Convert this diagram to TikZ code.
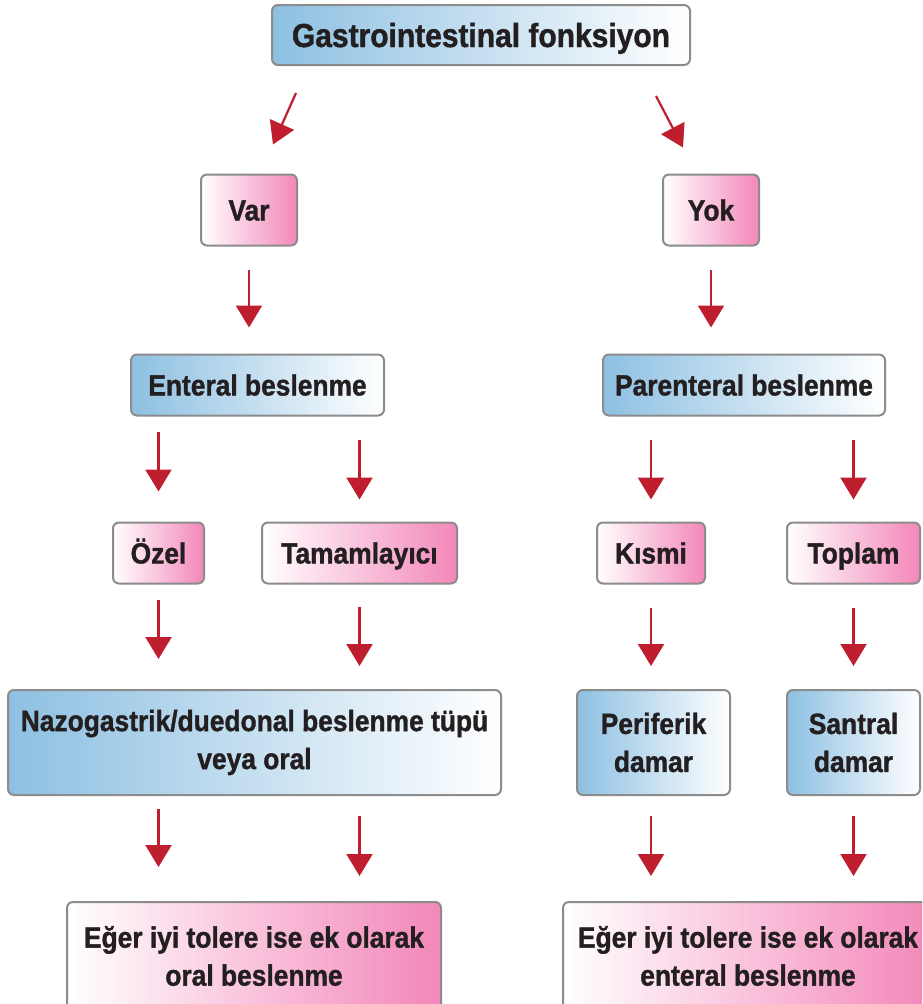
\documentclass[tikz,border=0pt]{standalone}
\usepackage{fontspec}
\setmainfont{Liberation Sans}[FakeStretch=0.9, BoldFeatures={FakeBold=1.2}]
\usepackage{xcolor}
\usetikzlibrary{arrows.meta, calc}
\definecolor{boxgray}{RGB}{140,140,140}
\definecolor{boxblue}{RGB}{141,192,226}
\definecolor{boxpink}{RGB}{243,135,185}
\definecolor{arrred}{RGB}{190,30,45}
\definecolor{txt}{RGB}{35,31,32}
\newcommand{\bodyfont}{\fontsize{29.3}{38}\selectfont\bfseries}
\newcommand{\titlefont}{\fontsize{33.3}{40}\selectfont\bfseries}

\begin{document}
\begin{tikzpicture}[x=1pt, y=-1pt,
    box/.style={draw=boxgray, line width=2pt, rounded corners=6pt, inner sep=0pt,
        align=center, text=txt, font=\bodyfont},
    oneline/.style={text height=21pt, text depth=0pt},
    bluebox/.style={box, left color=boxblue, right color=white},
    pinkbox/.style={box, left color=white, right color=boxpink},
    arr/.style={draw=arrred, line width=2.2pt, -{Triangle[width=26pt,length=22pt]}}]

    \useasboundingbox (0,0) rectangle (922,1004);
    \clip (0,0) rectangle (922,1004);

    % Top level
    \node[bluebox, font=\titlefont, text height=24pt, text depth=0pt, minimum width=418pt, minimum height=60pt] (title) at (481,35) {Gastrointestinal fonksiyon};

    % Var / Yok
    \node[pinkbox, oneline, minimum width=96pt, minimum height=71pt] (var) at (249,210) {Var};
    \node[pinkbox, oneline, minimum width=96pt, minimum height=71pt] (yok) at (711,210) {Yok};

    % Enteral / parenteral
    \node[bluebox, oneline, minimum width=253pt, minimum height=61pt] (enteral) at (257.5,385) {Enteral beslenme};
    \node[bluebox, oneline, minimum width=282pt, minimum height=61pt] (parenteral) at (744,385) {Parenteral beslenme};

    % Subtypes
    \node[pinkbox, oneline, minimum width=91pt, minimum height=61pt] (ozel) at (158.5,553) {Özel};
    \node[pinkbox, oneline, minimum width=195pt, minimum height=61pt] (tam) at (359.5,553) {Tamamlayıcı};
    \node[pinkbox, oneline, minimum width=108pt, minimum height=61pt] (kis) at (651,553) {Kısmi};
    \node[pinkbox, oneline, minimum width=133pt, minimum height=61pt] (top) at (853.5,553) {Toplam};

    % Routes
    \node[bluebox, minimum width=493pt, minimum height=105pt] (nazo) at (254.5,742.5) {Nazogastrik/duedonal beslenme tüpü\\veya oral};
    \node[bluebox, minimum width=153pt, minimum height=105pt] (per) at (653.5,742.5) {Periferik\\damar};
    \node[bluebox, minimum width=133pt, minimum height=105pt] (san) at (853.5,742.5) {Santral\\damar};

    % Bottom
    \node[pinkbox, minimum width=374pt, minimum height=108pt] (bl) at (254,956) {Eğer iyi tolere ise ek olarak\\oral beslenme};
    \node[pinkbox, minimum width=370pt, minimum height=108pt] (br) at (748,956) {Eğer iyi tolere ise ek olarak\\enteral beslenme};

    % Diagonal arrows from the title
    \draw[arr] ($(title.south west)+(25,27)$) -- ($(var.north east)+(-25,-29)$);
    \draw[arr] ($(title.south east)+(-35,30)$) -- ($(yok.north west)+(21,-26)$);

    % Vertical arrows: column/from/to/shorten start/shorten end
    \foreach \c/\a/\b/\s/\e in {var/var/enteral/23/26, yok/yok/parenteral/23/26,
        ozel/enteral/ozel/15/30, tam/enteral/tam/23/22,
        kis/parenteral/kis/23/22, top/parenteral/top/23/22,
        ozel/ozel/nazo/15/30, tam/tam/nazo/22/23,
        kis/kis/per/23/23, top/top/san/23/23,
        ozel/nazo/bl/13/34, tam/nazo/bl/20/25,
        kis/per/br/20/25, top/san/br/20/25}
        \draw[arr, shorten <=\s pt, shorten >=\e pt] (\c |- \a.south) -- (\c |- \b.north);

\end{tikzpicture}
\end{document}
